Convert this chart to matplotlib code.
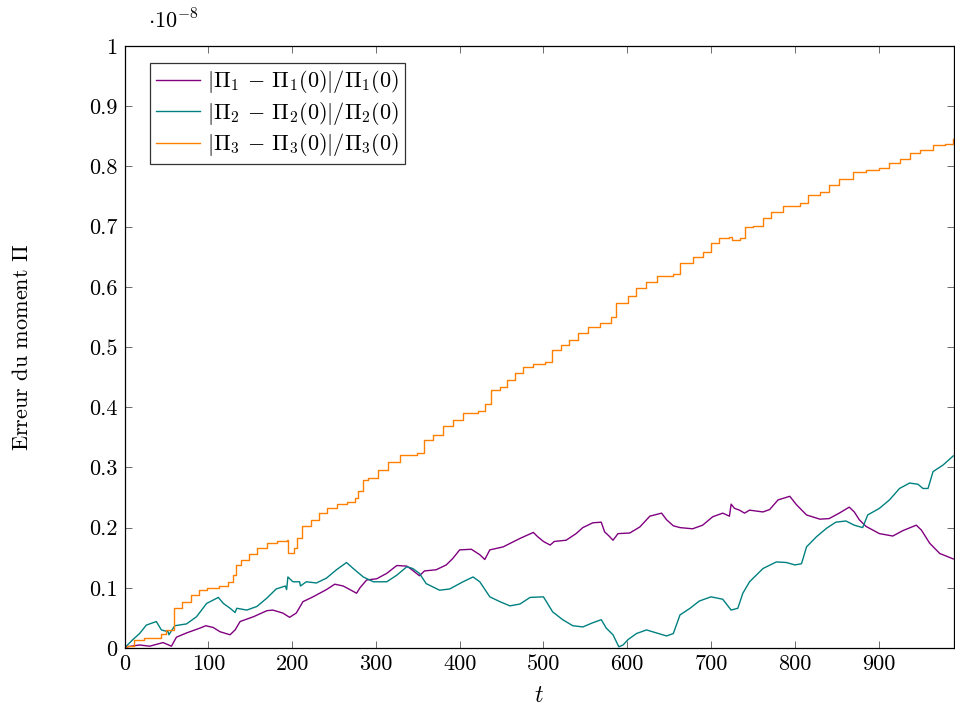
import matplotlib
matplotlib.use("Agg")
import matplotlib.pyplot as plt

plt.rcParams['font.family'] = 'serif'
plt.rcParams['font.serif'] = ['cmr10', 'DejaVu Serif']
plt.rcParams['mathtext.fontset'] = 'cm'
plt.rcParams['axes.unicode_minus'] = False
plt.rcParams['axes.formatter.use_mathtext'] = True

# ---- data (values in units of 1e-8) ----
t1 = [0, 3, 18, 30, 46, 56, 62, 74, 90, 97, 106, 114, 126, 132, 138, 154, 170, 177, 189, 197,
      205, 213, 225, 241, 251, 261, 269, 277, 281, 289, 301, 313, 325, 337, 343, 352, 358, 372,
      384, 392, 400, 414, 424, 430, 436, 452, 472, 488, 493, 500, 508, 513, 527, 539, 547, 559,
      569, 573, 579, 583, 589, 603, 615, 627, 641, 647, 655, 663, 678, 690, 702, 714, 722, 724,
      728, 734, 740, 746, 762, 770, 780, 794, 802, 814, 830, 841, 853, 865, 871, 877, 885, 901,
      917, 929, 945, 951, 961, 973, 989]
pi1 = [0, 0.002, 0.005, 0.003, 0.009, 0.003, 0.018, 0.025, 0.033, 0.037, 0.034, 0.027, 0.022,
       0.030, 0.044, 0.052, 0.062, 0.063, 0.058, 0.051, 0.058, 0.077, 0.085, 0.097, 0.106, 0.103,
       0.097, 0.091, 0.100, 0.113, 0.115, 0.124, 0.137, 0.136, 0.130, 0.120, 0.128, 0.130, 0.138,
       0.149, 0.163, 0.164, 0.155, 0.147, 0.163, 0.168, 0.182, 0.192, 0.185, 0.177, 0.171, 0.177,
       0.179, 0.190, 0.200, 0.208, 0.209, 0.193, 0.185, 0.179, 0.190, 0.191, 0.201, 0.219, 0.224,
       0.213, 0.203, 0.200, 0.198, 0.204, 0.218, 0.224, 0.219, 0.239, 0.232, 0.229, 0.224, 0.229,
       0.226, 0.230, 0.246, 0.252, 0.238, 0.221, 0.214, 0.215, 0.224, 0.234, 0.226, 0.213, 0.202,
       0.190, 0.186, 0.195, 0.204, 0.196, 0.174, 0.157, 0.148]

t2 = [0, 10, 18, 26, 38, 44, 52, 53, 60, 74, 86, 98, 112, 118, 126, 132, 134, 146, 158, 170, 181,
      192, 193.5, 195, 201, 209, 210, 217, 229, 241, 253, 265, 273, 285, 297, 313, 325, 337, 344,
      352, 360, 376, 388, 404, 416, 424, 436, 448, 460, 472, 484, 500, 511, 523, 535, 547, 559,
      569, 575, 583, 590, 595, 601, 611, 623, 635, 647, 655, 663, 675, 686, 700, 714, 724, 732,
      738, 746, 762, 778, 790, 800, 808, 814, 826, 838, 849, 861, 871, 881, 887, 901, 913, 925,
      937, 947, 953, 959, 965, 977, 989]
pi2 = [0, 0.014, 0.024, 0.038, 0.044, 0.030, 0.027, 0.022, 0.037, 0.040, 0.052, 0.074, 0.084,
       0.074, 0.066, 0.059, 0.066, 0.063, 0.069, 0.083, 0.098, 0.103, 0.097, 0.118, 0.110, 0.110,
       0.103, 0.110, 0.108, 0.116, 0.130, 0.142, 0.132, 0.118, 0.110, 0.110, 0.121, 0.135, 0.132,
       0.124, 0.107, 0.096, 0.098, 0.110, 0.118, 0.110, 0.085, 0.077, 0.070, 0.073, 0.084, 0.085,
       0.060, 0.047, 0.037, 0.035, 0.042, 0.047, 0.033, 0.022, 0.002, 0.005, 0.014, 0.024, 0.030,
       0.025, 0.020, 0.024, 0.055, 0.066, 0.078, 0.085, 0.081, 0.063, 0.066, 0.091, 0.110, 0.132,
       0.143, 0.142, 0.138, 0.140, 0.168, 0.185, 0.199, 0.209, 0.211, 0.204, 0.200, 0.221, 0.232,
       0.246, 0.265, 0.274, 0.272, 0.265, 0.265, 0.293, 0.304, 0.319]

t3 = [0, 3, 11, 23, 39, 43, 49, 59, 69, 79, 89, 99, 113, 123, 129, 133, 139, 148, 158, 170, 182,
      194, 195, 202, 206, 212, 222, 232, 242, 254, 265, 275, 279, 285, 291, 303, 315, 329, 349,
      358, 368, 380, 392, 404, 422, 430, 438, 448, 456, 466, 476, 488, 502, 510, 521, 531, 541,
      553, 567, 581, 587, 601, 611, 623, 635, 655, 663, 678, 690, 700, 710, 722, 725, 734, 741,
      750, 762, 772, 786, 806, 816, 830, 841, 853, 869, 885, 901, 913, 925, 937, 949, 965, 979,
      989]
pi3 = [0, 0.003, 0.014, 0.016, 0.017, 0.024, 0.030, 0.066, 0.077, 0.088, 0.097, 0.100, 0.103,
       0.110, 0.121, 0.138, 0.146, 0.156, 0.166, 0.175, 0.178, 0.180, 0.158, 0.166, 0.182, 0.202,
       0.213, 0.224, 0.232, 0.240, 0.243, 0.249, 0.260, 0.279, 0.282, 0.296, 0.309, 0.321, 0.324,
       0.346, 0.354, 0.368, 0.379, 0.390, 0.394, 0.406, 0.429, 0.434, 0.445, 0.456, 0.466, 0.472,
       0.475, 0.495, 0.503, 0.512, 0.524, 0.534, 0.540, 0.550, 0.573, 0.584, 0.598, 0.608, 0.618,
       0.622, 0.639, 0.649, 0.658, 0.672, 0.681, 0.683, 0.677, 0.681, 0.699, 0.701, 0.714, 0.725,
       0.734, 0.740, 0.752, 0.758, 0.769, 0.779, 0.790, 0.794, 0.798, 0.805, 0.813, 0.822, 0.827,
       0.836, 0.838, 0.845]

labels = [r'$|\Pi_1 \,-\, \Pi_1(0)|/\Pi_1(0)$',
          r'$|\Pi_2 \,-\, \Pi_2(0)|/\Pi_2(0)$',
          r'$|\Pi_3 \,-\, \Pi_3(0)|/\Pi_3(0)$']
colors = ['#800080', '#008080', '#ff8000']
styles = ['default', 'default', 'steps-post']
xticks = [0, 100, 200, 300, 400, 500, 600, 700, 800, 900]
yticks = [0, 0.1, 0.2, 0.3, 0.4, 0.5, 0.6, 0.7, 0.8, 0.9, 1.0]
ytick_labels = ['0', '0.1', '0.2', '0.3', '0.4', '0.5', '0.6', '0.7', '0.8', '0.9', '1']

FS = 16

fig = plt.figure(figsize=(9.55, 7.08), dpi=100)
ax = fig.add_axes([124.5 / 955, 1 - 648 / 708, (954 - 124.5) / 955, (648 - 46) / 708])

for t, v, lab, c, ds in zip([t1, t2, t3], [pi1, pi2, pi3], labels, colors, styles):
    ax.plot(t, v, color=c, lw=1.0, label=lab, drawstyle=ds)

ax.set_xlim(0, 990)
ax.set_ylim(0, 1)
ax.set_xticks(xticks)
ax.set_xticklabels([str(x) for x in xticks])
ax.set_yticks(yticks)
ax.set_yticklabels(ytick_labels)
ax.tick_params(direction='in', length=5, width=0.6, color='#555555', labelsize=FS,
               top=True, right=True, pad=5)
for s in ax.spines.values():
    s.set_linewidth(0.9)

ax.set_xlabel(r'$t$', fontsize=FS + 1)
ax.xaxis.set_label_coords(0.5, -0.062)
ax.set_ylabel(r'Erreur du moment $\Pi$', fontsize=FS)
ax.yaxis.set_label_coords(-0.112, 0.5)
ax.text(0.028, 1.043, r'$\cdot 10^{-8}$', transform=ax.transAxes, fontsize=FS,
        ha='left', va='center')

leg = ax.legend(loc='upper left', bbox_to_anchor=(0.031, 0.972), borderaxespad=0,
                fontsize=FS, frameon=True, fancybox=False, edgecolor='black',
                handlelength=2.0, handletextpad=0.3, labelspacing=0.2, borderpad=0.25)
leg.get_frame().set_linewidth(0.9)

fig.savefig('out.png', dpi=100)
